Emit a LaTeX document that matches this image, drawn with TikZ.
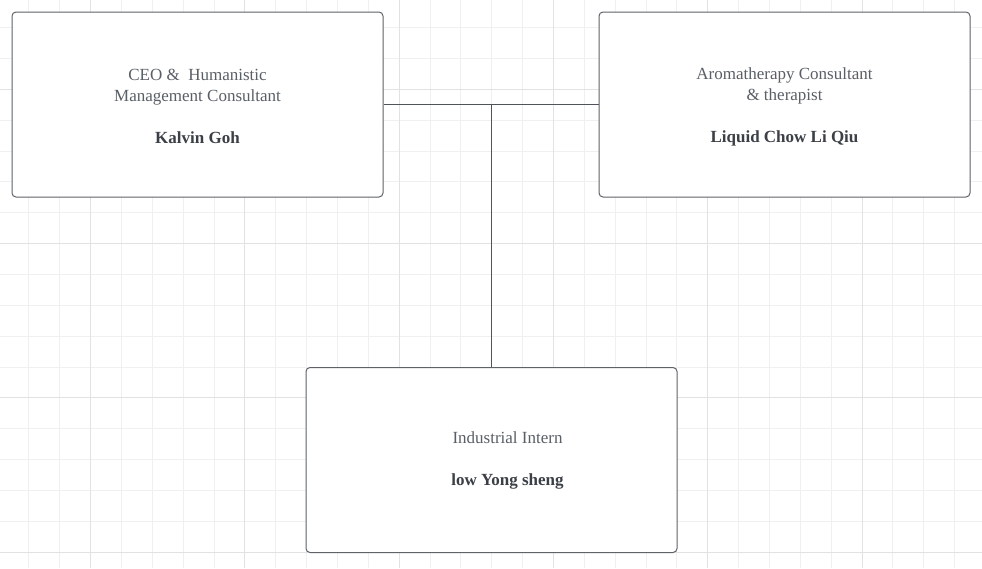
\documentclass[tikz,border=0pt]{standalone}
\usepackage{fontspec}
\setmainfont{Liberation Serif}
\definecolor{gridminor}{HTML}{F0F0F0}
\definecolor{gridmajor}{HTML}{E2E2E2}
\definecolor{boxline}{HTML}{5F6368}
\definecolor{titletext}{HTML}{5A5F66}
\definecolor{nametext}{HTML}{3C4046}
\begin{document}
\begin{tikzpicture}[x=1pt, y=-1pt,
  every node/.style={font=\fontsize{17}{21}\selectfont},
  rolebox/.style={draw=boxline, line width=1pt, fill=white, rounded corners=4pt,
    minimum width=371pt, minimum height=185pt},
  roletext/.style={align=center, text=titletext},
  link/.style={draw=nametext!90, line width=1pt}]
\useasboundingbox (0,0) rectangle (982,568);
\fill[white] (0,0) rectangle (982,568);
\foreach \i in {0,...,31} {
  \pgfmathsetmacro{\gx}{28.9+30.86*\i}
  \draw[gridminor, line width=1pt] (\gx,0) -- (\gx,568);
}
\foreach \i in {0,...,18} {
  \pgfmathsetmacro{\gy}{27.6+30.86*\i}
  \draw[gridminor, line width=1pt] (0,\gy) -- (982,\gy);
}
\foreach \i in {2,7,...,27} {
  \pgfmathsetmacro{\gx}{28.9+30.86*\i}
  \draw[gridmajor, line width=1pt] (\gx,0) -- (\gx,568);
}
\foreach \i in {2,7,...,17} {
  \pgfmathsetmacro{\gy}{27.6+30.86*\i}
  \draw[gridmajor, line width=1pt] (0,\gy) -- (982,\gy);
}
\node[rolebox] (ceo) at (197.5,104.5) {};
\node[rolebox] (aroma) at (784.5,104.5) {};
\node[rolebox] (intern) at (491.5,460) {};
\node[roletext] (ceotext) at ([yshift=-2pt]ceo.center) {CEO \&~ Humanistic\\Management Consultant\\[21pt]\textcolor{nametext}{\bfseries Kalvin Goh}};
\node[roletext] (aromatext) at ([yshift=-2pt]aroma.center) {Aromatherapy Consultant\\\& therapist\\[21pt]\textcolor{nametext}{\bfseries Liquid Chow Li Qiu}};
\node[roletext] (interntext) at ([xshift=16pt]intern.center) {Industrial Intern\\[21pt]\textcolor{nametext}{\bfseries low Yong sheng}};
\draw[link] (ceo.east) -- (aroma.west);
\draw[link] (intern.north) -- (intern.north |- ceo.east);
\end{tikzpicture}
\end{document}
